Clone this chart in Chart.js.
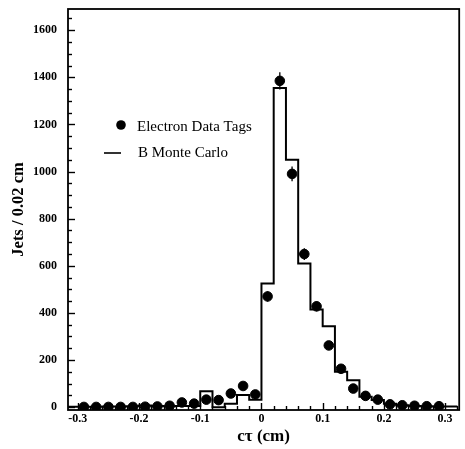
<!DOCTYPE html>
<html>
<head>
<meta charset="utf-8">
<script src="https://cdn.jsdelivr.net/npm/chart.js@4/dist/chart.umd.min.js"></script>
<style>
  html, body { margin: 0; padding: 0; background: #fff; }
  canvas { display: block; }
</style>
</head>
<body>
<canvas id="c" width="465" height="449"></canvas>
<script>
// B Monte Carlo histogram: left bin edges (cm) and jets per 0.02 cm
const mcBinLeft = [-0.32, -0.30, -0.28, -0.26, -0.24, -0.22, -0.20, -0.18, -0.16, -0.14,
                   -0.12, -0.10, -0.08, -0.06, -0.04, -0.02, 0.00, 0.02, 0.04, 0.06,
                   0.08, 0.10, 0.12, 0.14, 0.16, 0.18, 0.20, 0.22, 0.24, 0.26,
                   0.28, 0.30];
const mcCounts = [2, 2, 2, 3, 3, 4, 7, 5, 4, 5,
                  5, 68, 0, 14, 52, 32, 525, 1355, 1050, 610,
                  415, 343, 150, 114, 44, 30, 15, 8, 5, 4,
                  3, 3];
const mcLastEdge = 0.32;

// Electron data tags: bin centres (cm), counts and statistical errors
const dataCenters = [-0.29, -0.27, -0.25, -0.23, -0.21, -0.19, -0.17, -0.15, -0.13, -0.11,
                     -0.09, -0.07, -0.05, -0.03, -0.01, 0.01, 0.03, 0.05, 0.07, 0.09,
                     0.11, 0.13, 0.15, 0.17, 0.19, 0.21, 0.23, 0.25, 0.27, 0.29];
const dataCounts = [1, 1, 1, 1, 1, 2, 3, 6, 20, 15,
                    32, 30, 58, 90, 54, 470, 1385, 990, 650, 428,
                    262, 163, 79, 48, 32, 12, 8, 6, 4, 4];
const dataErrors = [1, 1, 1, 1, 1, 1, 2, 2, 4, 4,
                    6, 5, 8, 9, 7, 22, 37, 31, 25, 21,
                    16, 13, 9, 7, 6, 3, 3, 2, 2, 2];

// Axis labels
const xTickValues = [-0.3, -0.2, -0.1, 0, 0.1, 0.2, 0.3];
const yTickValues = [0, 200, 400, 600, 800, 1000, 1200, 1400, 1600];

const SERIF = '"Liberation Serif", "DejaVu Serif", serif';

// Frame, inward tick marks, error bars and legend
const decorations = {
  id: 'decorations',
  afterDatasetsDraw(chart) {
    const { ctx, scales: { x, y } } = chart;
    ctx.save();
    ctx.strokeStyle = '#000';
    ctx.lineWidth = 1.3;
    dataCenters.forEach((c, i) => {
      const px = x.getPixelForValue(c);
      ctx.beginPath();
      ctx.moveTo(px, y.getPixelForValue(dataCounts[i] - dataErrors[i]));
      ctx.lineTo(px, y.getPixelForValue(dataCounts[i] + dataErrors[i]));
      ctx.stroke();
    });
    ctx.restore();
  },
  afterDraw(chart) {
    const { ctx, chartArea: a, scales: { x, y } } = chart;
    ctx.save();
    ctx.strokeStyle = '#000';
    ctx.lineWidth = 1.8;
    ctx.strokeRect(a.left, a.top, a.right - a.left, a.bottom - a.top);

    ctx.lineWidth = 1.4;
    // y ticks: major every 200, minor every 50
    for (let v = 0; v <= 1650; v += 50) {
      const py = Math.round(y.getPixelForValue(v)) + 0.5;
      const len = v % 200 === 0 ? 7 : 4;
      ctx.beginPath();
      ctx.moveTo(a.left, py);
      ctx.lineTo(a.left + len, py);
      ctx.stroke();
    }
    // x ticks: major every 0.1, minor every 0.02
    for (let k = -15; k <= 16; k++) {
      const v = k * 0.02;
      const px = Math.round(x.getPixelForValue(v)) + 0.5;
      if (px < a.left || px > a.right) continue;
      const len = k % 5 === 0 ? 7 : 4;
      ctx.beginPath();
      ctx.moveTo(px, a.bottom);
      ctx.lineTo(px, a.bottom - len);
      ctx.stroke();
    }

    // legend
    const lx = a.left + 53;
    ctx.fillStyle = '#000';
    ctx.beginPath();
    ctx.arc(lx, a.top + 116, 4.8, 0, Math.PI * 2);
    ctx.fill();
    ctx.lineWidth = 1.6;
    ctx.beginPath();
    ctx.moveTo(lx - 17, a.top + 144);
    ctx.lineTo(lx, a.top + 144);
    ctx.stroke();
    ctx.font = '15px ' + SERIF;
    ctx.textBaseline = 'middle';
    ctx.textAlign = 'left';
    ctx.fillText('Electron Data Tags', lx + 16, a.top + 118);
    ctx.fillText('B Monte Carlo', lx + 17, a.top + 144);
    ctx.restore();
  }
};

const histogram = mcBinLeft.map((e, i) => ({ x: e, y: mcCounts[i] }));
histogram.push({ x: mcLastEdge, y: mcCounts[mcCounts.length - 1] });

new Chart(document.getElementById('c'), {
  data: {
    datasets: [
      {
        type: 'line',
        label: 'B Monte Carlo',
        data: histogram,
        stepped: 'before',
        borderColor: '#000',
        borderWidth: 2,
        pointRadius: 0,
        fill: false
      },
      {
        type: 'scatter',
        label: 'Electron Data Tags',
        data: dataCenters.map((c, i) => ({ x: c, y: dataCounts[i] })),
        backgroundColor: '#000',
        borderColor: '#000',
        pointRadius: 4.8,
        pointHoverRadius: 4.8
      }
    ]
  },
  options: {
    responsive: false,
    devicePixelRatio: 1,
    animation: false,
    layout: { padding: { left: 0, right: 4, top: 9, bottom: 0 } },
    plugins: { legend: { display: false }, tooltip: { enabled: false } },
    scales: {
      x: {
        type: 'linear',
        min: -0.316,
        max: 0.323,
        grid: { display: false, drawTicks: false },
        border: { display: false },
        afterBuildTicks: s => { s.ticks = xTickValues.map(v => ({ value: v })); },
        afterFit: s => { s.height = 39; s.paddingLeft = 0; s.paddingRight = 0; },
        ticks: {
          color: '#000',
          padding: 2,
          maxRotation: 0,
          font: { family: SERIF, size: 12, weight: 'bold' },
          callback: v => (Math.abs(v) < 1e-9 ? '0' : String(Math.round(v * 10) / 10))
        },
        title: {
          display: true,
          text: 'cτ (cm)',
          color: '#000',
          font: { family: SERIF, size: 17, weight: 'bold' },
          padding: { top: 0, bottom: 2 }
        }
      },
      y: {
        type: 'linear',
        min: -12,
        max: 1690,
        grid: { display: false, drawTicks: false },
        border: { display: false },
        afterBuildTicks: s => { s.ticks = yTickValues.map(v => ({ value: v })); },
        afterFit: s => { s.width = 68; s.paddingTop = 0; s.paddingBottom = 0; },
        ticks: {
          color: '#000',
          padding: 11,
          font: { family: SERIF, size: 12, weight: 'bold' },
          callback: v => String(v)
        },
        title: {
          display: true,
          text: 'Jets / 0.02 cm',
          color: '#000',
          font: { family: SERIF, size: 16.5, weight: 'bold' },
          padding: { top: 9, bottom: 0 }
        }
      }
    }
  },
  plugins: [decorations]
});
</script>
</body>
</html>
